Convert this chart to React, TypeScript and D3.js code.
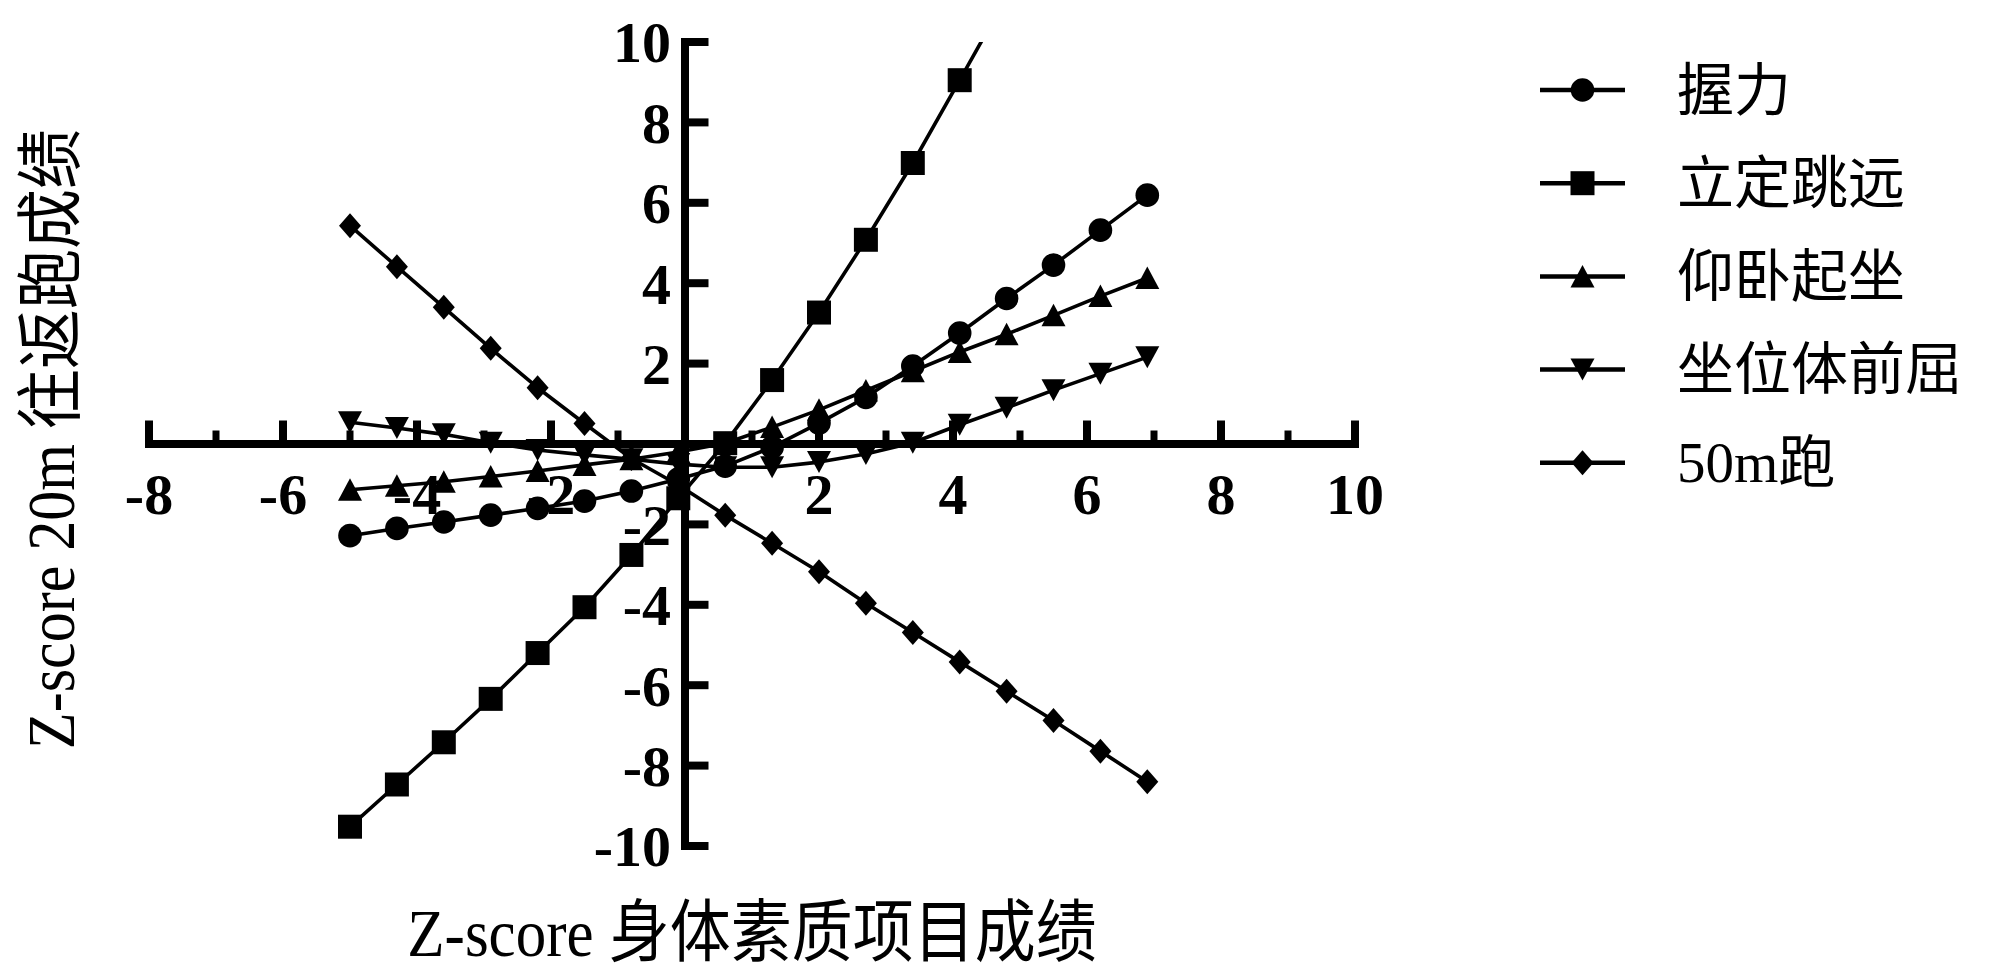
import React from 'react';
import * as d3 from 'd3';

// ---- data ----
const xValues = [-5, -4.3, -3.6, -2.9, -2.2, -1.5, -0.8, -0.1, 0.6, 1.3, 2.0, 2.7, 3.4, 4.1, 4.8, 5.5, 6.2, 6.9];
const gripValues = [-2.28, -2.1, -1.94, -1.77, -1.6, -1.42, -1.17, -0.87, -0.55, -0.08, 0.52, 1.16, 1.94, 2.76, 3.62, 4.45, 5.32, 6.19];
const jumpValues = [-9.52, -8.47, -7.42, -6.34, -5.2, -4.06, -2.76, -1.35, 0.02, 1.59, 3.27, 5.08, 6.99, 9.05, 11.13];
const situpValues = [-1.14, -1.04, -0.94, -0.81, -0.67, -0.52, -0.38, -0.2, 0.02, 0.42, 0.85, 1.33, 1.81, 2.29, 2.73, 3.2, 3.68, 4.13];
const reachValues = [0.54, 0.4, 0.24, 0.03, -0.15, -0.27, -0.38, -0.5, -0.58, -0.58, -0.45, -0.25, 0.03, 0.48, 0.9, 1.34, 1.75, 2.16];
const run50Values = [5.43, 4.41, 3.4, 2.38, 1.4, 0.51, -0.36, -1.02, -1.77, -2.47, -3.18, -3.96, -4.69, -5.42, -6.15, -6.88, -7.64, -8.4];

const seriesNames = ['握力', '立定跳远', '仰卧起坐', '坐位体前屈', '50m跑'];
const seriesShapes = ['circle', 'square', 'triangleUp', 'triangleDown', 'diamond'];
const seriesValues = [gripValues, jumpValues, situpValues, reachValues, run50Values];

const xMajorTicks = [-8, -6, -4, -2, 0, 2, 4, 6, 8, 10];
const xMinorTicks = [-7, -5, -3, -1, 1, 3, 5, 7, 9];
const xTickLabels = ['-8', '-6', '-4', '-2', '2', '4', '6', '8', '10'];
const yTickLabels = ['-10', '-8', '-6', '-4', '-2', '2', '4', '6', '8', '10'];

const xTitle = 'Z-score 身体素质项目成绩';
const yTitle = 'Z-score 20m 往返跑成绩';

const FONT = "'Liberation Serif', 'Noto Sans CJK SC', serif";

function markerPath(shape: string, cx: number, cy: number): string {
  switch (shape) {
    case 'square':
      return `M${cx - 12},${cy - 12}h24v24h-24Z`;
    case 'triangleUp':
      return `M${cx},${cy - 11.5}L${cx + 12},${cy + 11}L${cx - 12},${cy + 11}Z`;
    case 'triangleDown':
      return `M${cx},${cy + 11}L${cx + 12},${cy - 11}L${cx - 12},${cy - 11}Z`;
    case 'diamond':
      return `M${cx},${cy - 12.5}L${cx + 11},${cy}L${cx},${cy + 12.5}L${cx - 11},${cy}Z`;
    default: {
      const r = 11.8;
      return `M${cx - r},${cy}a${r},${r} 0 1,0 ${2 * r},0a${r},${r} 0 1,0 ${-2 * r},0Z`;
    }
  }
}

export default function App() {
  const W = 2000;
  const H = 975;
  const x = d3.scaleLinear().domain([0, 10]).range([685, 1355]);
  const y = d3.scaleLinear().domain([0, 10]).range([444, 42]);
  const x0 = x(0);
  const y0 = y(0);

  const line = d3
    .line<[number, number]>()
    .x((d) => x(d[0]))
    .y((d) => y(d[1]));

  const legendX0 = 1540;
  const legendX1 = 1625;
  const legendTextX = 1677;
  const legendY = (i: number) => 90 + i * 93.2;

  return (
    <svg
      width={W}
      height={H}
      viewBox={`0 0 ${W} ${H}`}
      style={{ position: 'absolute', left: 0, top: 0, background: '#fff' }}
    >
      <defs>
        <clipPath id="plotClip">
          <rect x={0} y={y(10)} width={W} height={y(-10) - y(10)} />
        </clipPath>
      </defs>
      <rect x={0} y={0} width={W} height={H} fill="#fff" />

      {/* data */}
      <g clipPath="url(#plotClip)">
        {seriesValues.map((vals, si) => {
          const pts: [number, number][] = vals.map((v, i) => [xValues[i], v]);
          return (
            <g key={si}>
              <path d={line(pts) || ''} fill="none" stroke="#000" strokeWidth={3.6} strokeLinejoin="round" />
              {pts.map((p, i) => (
                <path key={i} d={markerPath(seriesShapes[si], x(p[0]), y(p[1]))} fill="#000" />
              ))}
            </g>
          );
        })}
      </g>

      {/* x axis */}
      <line x1={x(-8) - 4} x2={x(10) + 4} y1={y0} y2={y0} stroke="#000" strokeWidth={8} />
      {xMajorTicks.map((t) => (
        <line key={'xM' + t} x1={x(t)} x2={x(t)} y1={y0} y2={y0 - 23.5} stroke="#000" strokeWidth={8} />
      ))}
      {xMinorTicks.map((t) => (
        <line key={'xm' + t} x1={x(t)} x2={x(t)} y1={y0} y2={y0 - 13.5} stroke="#000" strokeWidth={7} />
      ))}
      {xTickLabels.map((t) => (
        <text
          key={'xl' + t}
          x={x(+t)}
          y={514}
          textAnchor="middle"
          fontFamily={FONT}
          fontWeight="bold"
          fontSize={58}
          fill="#000"
        >
          {t}
        </text>
      ))}

      {/* y axis */}
      <line x1={x0} x2={x0} y1={y(10) - 4} y2={y(-10) + 4} stroke="#000" strokeWidth={8} />
      {yTickLabels.map((t) => (
        <line key={'yt' + t} x1={x0} x2={x0 + 23.5} y1={y(+t)} y2={y(+t)} stroke="#000" strokeWidth={8} />
      ))}
      {yTickLabels.map((t) => (
        <text
          key={'yl' + t}
          x={671}
          y={y(+t)}
          dy="0.35em"
          textAnchor="end"
          fontFamily={FONT}
          fontWeight="bold"
          fontSize={58}
          fill="#000"
        >
          {t}
        </text>
      ))}

      {/* axis titles */}
      <text
        transform={`translate(752,956) scale(1,1.12)`}
        textAnchor="middle"
        fontFamily={FONT}
        fontSize={61}
        fill="#000"
      >
        {xTitle}
      </text>
      <text
        transform={`translate(74,439) rotate(-90) scale(1,1.12)`}
        textAnchor="middle"
        fontFamily={FONT}
        fontSize={60}
        fill="#000"
      >
        {yTitle}
      </text>

      {/* legend */}
      {seriesNames.map((name, i) => (
        <g key={'lg' + i}>
          <line x1={legendX0} x2={legendX1} y1={legendY(i)} y2={legendY(i)} stroke="#000" strokeWidth={4.5} />
          <path d={markerPath(seriesShapes[i], (legendX0 + legendX1) / 2, legendY(i))} fill="#000" />
          <text
            x={legendTextX}
            y={legendY(i)}
            dominantBaseline="central"
            fontFamily={FONT}
            fontSize={57}
            fill="#000"
          >
            {name}
          </text>
        </g>
      ))}
    </svg>
  );
}
